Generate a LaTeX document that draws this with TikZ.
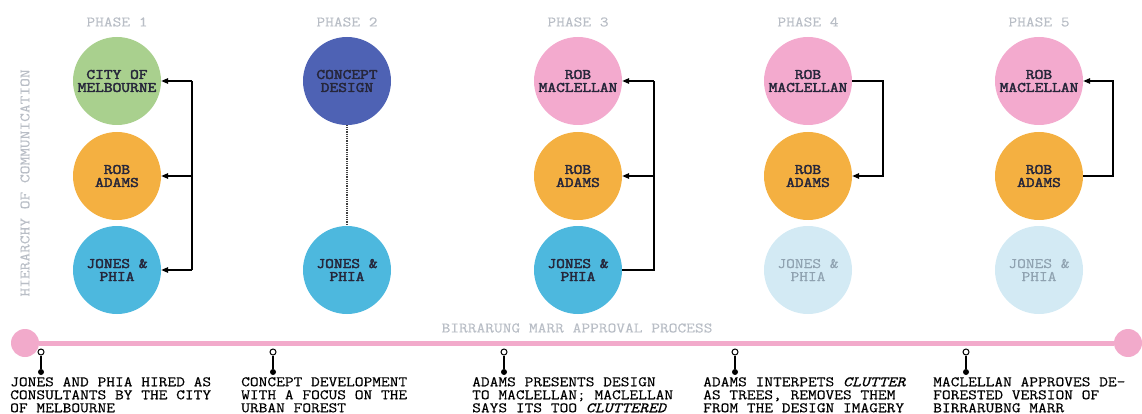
\documentclass[tikz,border=0pt]{standalone}
\usepackage{fontspec}
\setmainfont{Latin Modern Mono}[FakeStretch=1.17, FakeBold=0.4,
  BoldFont={Latin Modern Mono}, BoldFeatures={FakeBold=2.6}]
\usetikzlibrary{arrows.meta}
\definecolor{cgreen}{HTML}{A9D08E}
\definecolor{corange}{HTML}{F4B041}
\definecolor{cblue}{HTML}{4DB8DE}
\definecolor{cnavy}{HTML}{4E62B4}
\definecolor{cpink}{HTML}{F3AACE}
\definecolor{cfaded}{HTML}{D3EAF4}
\definecolor{ctext}{HTML}{26263A}
\definecolor{cfadetext}{HTML}{8FA2B0}
\definecolor{clabel}{HTML}{B9BEC6}
\definecolor{cline}{HTML}{F2AACB}
\begin{document}
\begin{tikzpicture}[x=1pt,y=-1pt,
  person/.style={circle,minimum size=88pt,inner sep=0pt,align=center,
    font=\fontsize{14.5}{13}\selectfont\bfseries,text=ctext},
  faded/.style={person,fill=cfaded,text=cfadetext,font=\fontsize{14.5}{13}\selectfont},
  phaselbl/.style={font=\fontsize{14.5}{13}\selectfont,text=clabel},
  link/.style={line width=1.4pt,draw=black},
  arr/.style={link,-{Triangle[length=7pt,width=5.5pt]}},
  dotlink/.style={line width=1.3pt,draw=black!75,dash pattern=on 1pt off 0.8pt},
  endball/.style={circle,fill=cline,minimum size=28pt,inner sep=0pt},
  ring/.style={circle,draw=black,line width=1pt,fill=white,minimum size=6pt,inner sep=0pt},
  blob/.style={circle,fill=black,minimum size=6pt,inner sep=0pt},
  note/.style={anchor=north west,align=left,inner sep=0pt,
    font=\fontsize{14.5}{13}\selectfont,text=black}]
\useasboundingbox (0,0) rectangle (1142,414);
% vertical label
\node[phaselbl,rotate=90] (hier) at (25,183) {HIERARCHY OF COMMUNICATION};
% phase labels
\node[phaselbl] (ph1) at (117,22) {PHASE 1};
\node[phaselbl] (ph2) at (347,22) {PHASE 2};
\node[phaselbl] (ph3) at (578,22) {PHASE 3};
\node[phaselbl] (ph4) at (808,22) {PHASE 4};
\node[phaselbl] (ph5) at (1039,22) {PHASE 5};
% phase 1
\node[person,fill=cgreen] (p1c) at (117,81) {CITY OF\\MELBOURNE};
\node[person,fill=corange] (p1a) at (117,176) {ROB\\ADAMS};
\node[person,fill=cblue] (p1j) at (117,270) {JONES \&\\PHIA};
\coordinate (p1t) at (192,81);
\coordinate (p1b) at (192,270);
\draw[link] (p1t) -- (p1b);
\draw[arr] (p1t) -- (p1c.east);
\draw[arr] (p1t |- p1a) -- (p1a.east);
\draw[arr] (p1b) -- (p1j.east);
% phase 2
\node[person,fill=cnavy] (p2c) at (347,81) {CONCEPT\\DESIGN};
\node[person,fill=cblue] (p2j) at (347,270) {JONES \&\\PHIA};
\draw[dotlink] (p2c) -- (p2j);
% phase 3
\node[person,fill=cpink] (p3m) at (578,81) {ROB\\MACLELLAN};
\node[person,fill=corange] (p3a) at (578,176) {ROB\\ADAMS};
\node[person,fill=cblue] (p3j) at (578,270) {JONES \&\\PHIA};
\coordinate (p3t) at (654,81);
\coordinate (p3b) at (654,270);
\draw[link] (p3j.east) -- (p3b) -- (p3t);
\draw[arr] (p3t) -- (p3m.east);
\draw[arr] (p3t |- p3a) -- (p3a.east);
% phase 4
\node[person,fill=cpink] (p4m) at (808,81) {ROB\\MACLELLAN};
\node[person,fill=corange] (p4a) at (808,176) {ROB\\ADAMS};
\node[faded] (p4j) at (808,270) {JONES \&\\PHIA};
\coordinate (p4r) at (883,81);
\draw[arr] (p4m.east) -- (p4r) |- (p4a.east);
% phase 5
\node[person,fill=cpink] (p5m) at (1039,81) {ROB\\MACLELLAN};
\node[person,fill=corange] (p5a) at (1039,176) {ROB\\ADAMS};
\node[faded] (p5j) at (1039,270) {JONES \&\\PHIA};
\coordinate (p5r) at (1113,176);
\draw[arr] (p5a.east) -- (p5r) |- (p5m.east);
% timeline
\node[endball] (tl) at (25,343) {};
\node[endball] (tr) at (1128,343) {};
\draw[line width=5pt,draw=cline] (tl) -- (tr);
\node[phaselbl] (tlabel) at (577,328) {BIRRARUNG MARR APPROVAL PROCESS};
% markers
\foreach \i/\x in {1/41,2/273,3/504,4/735,5/966}{
  \node[ring] (r\i) at (\x,352) {};
  \node[blob] (b\i) at (\x,372) {};
  \draw[line width=1.3pt] (r\i) -- (b\i);
}
\node[note] (t1) at (10,377) {JONES AND PHIA HIRED AS\\CONSULTANTS BY THE CITY\\OF MELBOURNE};
\node[note] (t2) at (241,377) {CONCEPT DEVELOPMENT\\WITH A FOCUS ON THE\\URBAN FOREST};
\node[note] (t3) at (472,377) {ADAMS PRESENTS DESIGN\\TO MACLELLAN; MACLELLAN\\SAYS ITS TOO \textit{CLUTTERED}};
\node[note] (t4) at (703,377) {ADAMS INTERPETS \textit{CLUTTER}\\AS TREES, REMOVES THEM\\FROM THE DESIGN IMAGERY};
\node[note] (t5) at (933,377) {MACLELLAN APPROVES DE-\\FORESTED VERSION OF\\BIRRARUBNG MARR};
\end{tikzpicture}
\end{document}
